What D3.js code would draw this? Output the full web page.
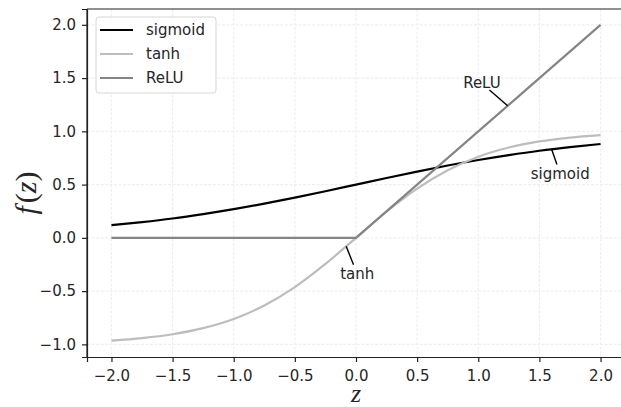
<!DOCTYPE html>
<html>
<head>
<meta charset="utf-8">
<script src="https://cdn.jsdelivr.net/npm/d3@7"></script>
<style>
  body { margin: 0; background: #fff; }
  text { font-family: "DejaVu Sans", sans-serif; fill: #262626; }
</style>
</head>
<body>
<svg id="chart"></svg>
<script>
const width = 621;
const height = 407;

// values
const zValues = [-2, -1.75, -1.5, -1.25, -1, -0.75, -0.5, -0.25, 0, 0.25, 0.5, 0.75, 1, 1.25, 1.5, 1.75, 2];
const sigmoidValues = [0.119, 0.148, 0.182, 0.223, 0.269, 0.321, 0.378, 0.438, 0.5, 0.562, 0.622, 0.679, 0.731, 0.777, 0.818, 0.852, 0.881];
const tanhValues = [-0.964, -0.941, -0.905, -0.848, -0.762, -0.635, -0.462, -0.245, 0, 0.245, 0.462, 0.635, 0.762, 0.848, 0.905, 0.941, 0.964];
const reluZ = [-2, 0, 2];
const reluValues = [0, 0, 2];

const xTicks = [-2.0, -1.5, -1.0, -0.5, 0.0, 0.5, 1.0, 1.5, 2.0];
const yTicks = [-1.0, -0.5, 0.0, 0.5, 1.0, 1.5, 2.0];

const seriesNames = ["sigmoid", "tanh", "ReLU"];
const seriesColors = ["#000000", "#bdbdbd", "#858585"];

// annotation: label, point on curve (z, f), label position (z, f)
const notes = [
  {label: "ReLU", z: 1.24, f: 1.24, tz: 1.03, tf: 1.45},
  {label: "sigmoid", z: 1.6, f: 0.832, tz: 1.67, tf: 0.6},
  {label: "tanh", z: -0.08, f: -0.08, tz: 0.01, tf: -0.34}
];

const svg = d3.select("#chart").attr("width", width).attr("height", height);

// axes box (right edge sits just outside the picture)
const mLeft = 87, mRight = 625, mTop = 9, mBottom = 357;
const x = d3.scaleLinear().domain([-2.2, 2.2]).range([mLeft, mRight]);
const y = d3.scaleLinear().domain([-1.1185, 2.1485]).range([mBottom, mTop]);

// grid
const grid = svg.append("g");
grid.selectAll(".gx").data(xTicks).enter().append("line")
  .attr("x1", d => x(d)).attr("x2", d => x(d))
  .attr("y1", mTop).attr("y2", mBottom)
  .attr("stroke", "#efefef").attr("stroke-width", 1.2).attr("stroke-dasharray", "3,1.5");
grid.selectAll(".gy").data(yTicks).enter().append("line")
  .attr("y1", d => y(d)).attr("y2", d => y(d))
  .attr("x1", mLeft).attr("x2", mRight)
  .attr("stroke", "#efefef").attr("stroke-width", 1.2).attr("stroke-dasharray", "3,1.5");

// curves
const smooth = d3.line().x(d => x(d[0])).y(d => y(d[1])).curve(d3.curveMonotoneX);
const straight = d3.line().x(d => x(d[0])).y(d => y(d[1]));
const series = [
  zValues.map((z, i) => [z, sigmoidValues[i]]),
  zValues.map((z, i) => [z, tanhValues[i]]),
  reluZ.map((z, i) => [z, reluValues[i]])
];
svg.append("g").selectAll("path").data(series).enter().append("path")
  .attr("d", (d, i) => i === 2 ? straight(d) : smooth(d))
  .attr("fill", "none")
  .attr("stroke", (d, i) => seriesColors[i])
  .attr("stroke-width", 2.2);

// annotations
const ann = svg.append("g");
notes.forEach(n => {
  const px = x(n.z), py = y(n.f), tx = x(n.tz), ty = y(n.tf);
  // short connector from the curve towards the label
  const dx = tx - px, dy = ty - py, len = Math.hypot(dx, dy);
  const gap = 10;
  ann.append("line")
    .attr("x1", px).attr("y1", py)
    .attr("x2", tx - dx / len * gap).attr("y2", ty - dy / len * gap)
    .attr("stroke", "#000").attr("stroke-width", 1.4);
  ann.append("text").attr("x", tx).attr("y", ty)
    .attr("text-anchor", "middle").attr("dominant-baseline", "central")
    .style("font-size", "15px").text(n.label);
});

// spines
svg.append("line").attr("x1", mLeft).attr("x2", mRight).attr("y1", mTop).attr("y2", mTop).attr("stroke", "#222").attr("stroke-width", 1.2);
svg.append("line").attr("x1", mLeft).attr("x2", mLeft).attr("y1", mTop).attr("y2", mBottom).attr("stroke", "#222").attr("stroke-width", 1.2);

// axes
const xAxis = svg.append("g").attr("transform", `translate(0,${mBottom})`)
  .call(d3.axisBottom(x).tickValues(xTicks).tickSizeOuter(0).tickSize(5).tickPadding(8));
const yAxis = svg.append("g").attr("transform", `translate(${mLeft},0)`)
  .call(d3.axisLeft(y).tickValues(yTicks).tickSizeOuter(0).tickSize(5).tickPadding(6));
[xAxis, yAxis].forEach(a => {
  a.select(".domain").attr("stroke", "#222").attr("stroke-width", 1.2);
  a.selectAll(".tick line").attr("stroke", "#222").attr("stroke-width", 1.2);
  a.selectAll(".tick text").style("font-size", "15px").style("font-family", "DejaVu Sans").attr("fill", "#262626")
    .text(d => d3.format(".1f")(d).replace("-", "\u2212"));
});

// axis labels
svg.append("text").attr("x", x(0)).attr("y", 402)
  .attr("text-anchor", "middle")
  .style("font-family", "Liberation Serif, serif").style("font-style", "italic").style("font-size", "26px")
  .text("z");
svg.append("text").attr("transform", "translate(36,193) rotate(-90)")
  .attr("text-anchor", "middle")
  .style("font-family", "Liberation Serif, serif").style("font-size", "30px")
  .html('<tspan font-style="italic">f</tspan><tspan dx="3">(</tspan><tspan font-style="italic">z</tspan>)');

// legend
const legend = svg.append("g");
legend.append("rect").attr("x", 96).attr("y", 17).attr("width", 120).attr("height", 76)
  .attr("rx", 3).attr("fill", "#fff").attr("fill-opacity", 0.8).attr("stroke", "#d6d6d6");
seriesNames.forEach((name, i) => {
  const ly = 30 + i * 24;
  legend.append("line").attr("x1", 100).attr("x2", 133).attr("y1", ly).attr("y2", ly)
    .attr("stroke", seriesColors[i]).attr("stroke-width", 2.2);
  legend.append("text").attr("x", 146).attr("y", ly).attr("dominant-baseline", "central")
    .style("font-size", "15px").text(name);
});
</script>
</body>
</html>
